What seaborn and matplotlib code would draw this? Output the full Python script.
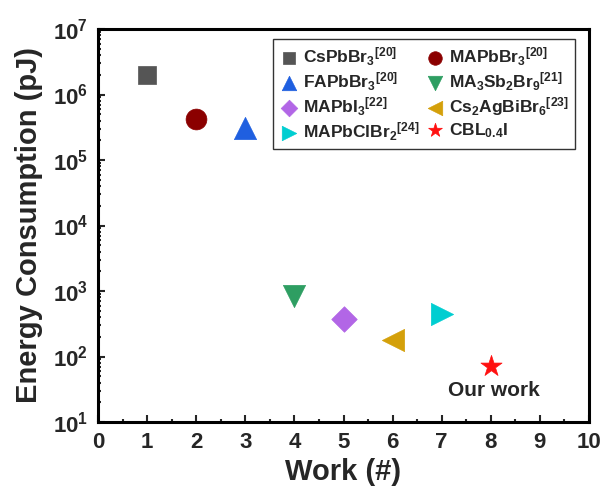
import matplotlib
matplotlib.use("Agg")
import matplotlib.pyplot as plt
import seaborn as sns
import pandas as pd
from matplotlib.ticker import MultipleLocator, LogLocator, NullFormatter

# ---- data ----
labels = [r'CsPbBr$_3$$^{[20]}$', r'MAPbBr$_3$$^{[20]}$', r'FAPbBr$_3$$^{[20]}$',
          r'MA$_3$Sb$_2$Br$_9$$^{[21]}$', r'MAPbI$_3$$^{[22]}$', r'Cs$_2$AgBiBr$_6$$^{[23]}$',
          r'MAPbClBr$_2$$^{[24]}$', r'CBL$_{0.4}$I']
work = [1, 2, 3, 4, 5, 6, 7, 8]
energy = [2.0e6, 4.3e5, 3.1e5, 850, 370, 180, 440, 72]
markers = ['s', 'o', '^', 'v', 'D', '<', '>', '*']
colors = ['#555555', '#8B0000', '#1F5FE0', '#2E9E62', '#B266E6', '#D4A00A', '#00CED1', '#FF1010']
msizes = [13.5, 15, 16, 16, 13, 16, 16, 16]

sns.set_style("white")
plt.rcParams['font.family'] = ['Liberation Sans', 'DejaVu Sans']
plt.rcParams['font.weight'] = 'bold'
plt.rcParams['mathtext.fontset'] = 'custom'
plt.rcParams['mathtext.rm'] = 'Liberation Sans:bold'
plt.rcParams['mathtext.bf'] = 'Liberation Sans:bold'
plt.rcParams['mathtext.it'] = 'Liberation Sans:bold'
plt.rcParams['mathtext.default'] = 'bf'

fig = plt.figure(figsize=(6.06, 5.0), dpi=100)
ax = fig.add_axes([98/606, 1-422/500, (589-98)/606, (422-29)/500])

df = pd.DataFrame({'work': work, 'energy': energy, 'label': labels})
for i in range(len(df)):
    sns.scatterplot(data=df.iloc[[i]], x='work', y='energy', marker=markers[i],
                    color=colors[i], s=msizes[i]**2, edgecolor=colors[i], linewidth=0.5,
                    label=labels[i], ax=ax, zorder=3)

ax.set_yscale('log')
ax.set_xlim(0, 10)
ax.set_ylim(10, 1e7)
ax.xaxis.set_major_locator(MultipleLocator(1))
ax.xaxis.set_minor_locator(MultipleLocator(0.5))
ax.yaxis.set_major_locator(LogLocator(base=10, numticks=10))
ax.yaxis.set_minor_locator(LogLocator(base=10, subs=range(2, 10), numticks=20))
ax.yaxis.set_minor_formatter(NullFormatter())

ax.tick_params(which='both', direction='in', top=False, right=False, bottom=True, left=True,
               width=1.5, labelsize=16)
ax.tick_params(which='major', length=5, pad=7)
ax.tick_params(which='minor', length=2.5)
for sp in ax.spines.values():
    sp.set_linewidth(2.2)
    sp.set_color('black')

ax.set_xlabel('Work (#)', fontsize=21, fontweight='bold', labelpad=4)
ax.set_ylabel('Energy Consumption (pJ)', fontsize=21, fontweight='bold', labelpad=7)

ax.text(8.06, 30, 'Our work', ha='center', va='center', fontsize=15, fontweight='bold')

handles, labs = ax.get_legend_handles_labels()
order = [0, 2, 4, 6, 1, 3, 5, 7]
leg = ax.legend([handles[k] for k in order], [labs[k] for k in order],
                loc='upper right', bbox_to_anchor=(0.9715, 0.9746), borderaxespad=0,
                ncol=2, fancybox=False, frameon=True, fontsize=12.5, handletextpad=0.2,
                columnspacing=0.3, labelspacing=0.15, borderpad=0.35, markerscale=0.65,
                handlelength=1.2)
leg.get_frame().set_edgecolor('black')
leg.get_frame().set_linewidth(1.0)
for t in leg.get_texts():
    t.set_fontweight('bold')

fig.savefig('out.png', dpi=100)
